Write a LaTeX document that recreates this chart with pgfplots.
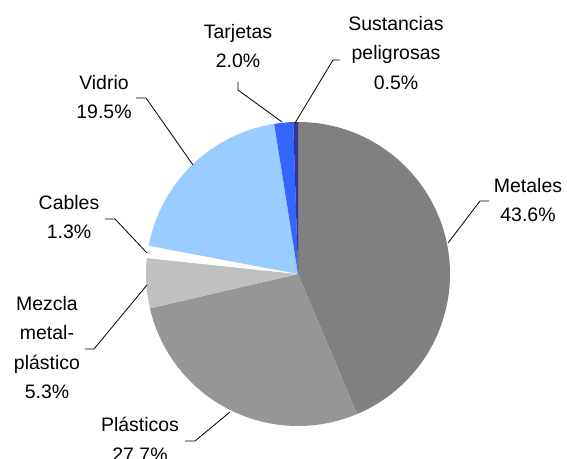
\documentclass[border=0pt]{standalone}
\usepackage{pgfplots}
\usepackage{pgfplotstable}
\pgfplotsset{compat=1.18}
\usepackage{fontspec}
\setmainfont{Liberation Sans}

\definecolor{cMetales}{HTML}{808080}
\definecolor{cPlasticos}{HTML}{969696}
\definecolor{cMezcla}{HTML}{C0C0C0}
\definecolor{cCables}{HTML}{FFFFFF}
\definecolor{cVidrio}{HTML}{99CCFF}
\definecolor{cTarjetas}{HTML}{3366FF}
\definecolor{cSustancias}{HTML}{333399}

% porcentajes, en sentido horario desde arriba
\pgfplotstableread{
name value color
Metales 43.6 cMetales
Plasticos 27.7 cPlasticos
Mezcla 5.3 cMezcla
Cables 1.3 cCables
Vidrio 19.5 cVidrio
Tarjetas 2.0 cTarjetas
Sustancias 0.5 cSustancias
}\piedata

\begin{document}
\begin{tikzpicture}
\begin{axis}[
    name=ax,
    width=425.25pt, height=344.25pt,
    scale only axis,
    hide axis,
    xmin=0, xmax=567,
    ymin=0, ymax=459,
    clip=false,
    ]
    % total
    \def\total{0}
    \pgfplotsforeachungrouped \i in {0,...,6}{%
        \pgfplotstablegetelem{\i}{value}\of\piedata
        \pgfmathsetmacro\total{\total+\pgfplotsretval}
        \global\let\total\total
    }
    % sectores
    \def\angA{90}
    \pgfplotsforeachungrouped \i in {0,...,6}{%
        \pgfplotstablegetelem{\i}{value}\of\piedata
        \pgfmathsetmacro\angB{\angA-360*\pgfplotsretval/\total}
        \pgfplotstablegetelem{\i}{color}\of\piedata
        \edef\cmd{\noexpand\fill[fill=\pgfplotsretval] (axis cs:298,185) -- ++(\angA:114pt)
            arc[start angle=\angA, end angle=\angB, radius=114pt] -- cycle;}
        \cmd
        \global\let\angA\angB
    }

    % lineas guia
    \draw[black, line width=0.6pt] (axis cs:489,258) -- (axis cs:480,258) -- (axis cs:448,216);
    \draw[black, line width=0.6pt] (axis cs:185,18) -- (axis cs:195,18) -- (axis cs:230,47);
    \draw[black, line width=0.6pt] (axis cs:85,110) -- (axis cs:94,110) -- (axis cs:147,174);
    \draw[black, line width=0.6pt] (axis cs:105,240) -- (axis cs:115,240) -- (axis cs:147,206);
    \draw[black, line width=0.6pt] (axis cs:136,361) -- (axis cs:146,361) -- (axis cs:193,294);
    \draw[black, line width=0.6pt] (axis cs:238,377) -- (axis cs:238,369) -- (axis cs:282,337);
    \draw[black, line width=0.6pt] (axis cs:340,399) -- (axis cs:333,399) -- (axis cs:295,336);

    % etiquetas
    \tikzset{lbl/.style={align=center, inner sep=0pt, font=\fontsize{14.6}{22.2}\selectfont}}
    \node[lbl] at (axis cs:528,259) {Metales\\43.6\%};
    \node[lbl] at (axis cs:140,19.5) {Plásticos\\27.7\%};
    \node[lbl] at (axis cs:47,111.5) {Mezcla\\metal-\\plástico\\5.3\%};
    \node[lbl] at (axis cs:69,242) {Cables\\1.3\%};
    \node[lbl] at (axis cs:104,362) {Vidrio\\19.5\%};
    \node[lbl] at (axis cs:238,413) {Tarjetas\\2.0\%};
    \node[lbl] at (axis cs:396,406) {Sustancias\\peligrosas\\0.5\%};
\end{axis}
\pgfresetboundingbox
\path (ax.south west) rectangle (ax.north east);
\end{tikzpicture}
\end{document}
